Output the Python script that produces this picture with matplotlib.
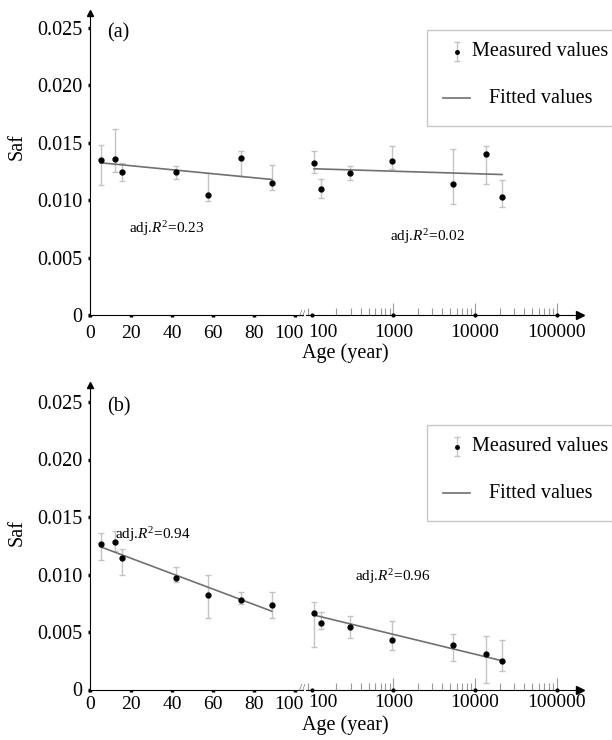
import matplotlib
matplotlib.use('Agg')
import matplotlib.pyplot as plt
import matplotlib.transforms as mtransforms
from matplotlib.lines import Line2D
from matplotlib.patches import Rectangle
from matplotlib.ticker import FixedLocator, FuncFormatter, LogLocator, NullFormatter

plt.rcParams['font.family'] = ['Liberation Serif', 'DejaVu Serif']
plt.rcParams['mathtext.fontset'] = 'custom'
plt.rcParams['mathtext.rm'] = 'Liberation Serif'
plt.rcParams['mathtext.it'] = 'Liberation Serif:italic'

# ages (years) - young part on linear scale, old part on log scale
age_young = [5.4, 12.3, 15.6, 41.8, 57.7, 73.6, 88.6]
age_old = [107, 130, 292, 975, 5370, 13700, 21400]

# panel (a)
saf_a_young = [0.01355, 0.01364, 0.01243, 0.01249, 0.01049, 0.01367, 0.0115]
saf_a_young_hi = [0.01485, 0.01625, 0.01327, 0.01303, 0.01237, 0.01433, 0.0131]
saf_a_young_lo = [0.01136, 0.01251, 0.01165, 0.01185, 0.00997, 0.01211, 0.01087]
saf_a_old = [0.01323, 0.01095, 0.01237, 0.01344, 0.01139, 0.01401, 0.01032]
saf_a_old_hi = [0.01427, 0.01188, 0.01295, 0.01477, 0.01451, 0.01477, 0.01179]
saf_a_old_lo = [0.01237, 0.01023, 0.01176, 0.01272, 0.00971, 0.01139, 0.00945]
fit_a_young = [0.01327, 0.01182]
fit_a_old = [0.01275, 0.01225]
r2_a = ['0.23', '0.02']

# panel (b)
saf_b_young = [0.01263, 0.0128, 0.01144, 0.0097, 0.00818, 0.00777, 0.00736]
saf_b_young_hi = [0.01358, 0.01376, 0.01225, 0.01066, 0.00994, 0.00844, 0.00844]
saf_b_young_lo = [0.01127, 0.01202, 0.00994, 0.00936, 0.00618, 0.00742, 0.00618]
saf_b_old = [0.00664, 0.0058, 0.00542, 0.00432, 0.00384, 0.00311, 0.0025]
saf_b_old_hi = [0.00757, 0.00673, 0.00635, 0.00597, 0.00479, 0.00467, 0.0043]
saf_b_old_lo = [0.00372, 0.00525, 0.0045, 0.0034, 0.00245, 0.00054, 0.0016]
fit_b_young = [0.0124, 0.00681]
fit_b_old = [0.00647, 0.0025]
r2_b = ['0.94', '0.96']

yticks = [0, 0.005, 0.010, 0.015, 0.020, 0.025]
xticks_young = [0, 20, 40, 60, 80, 100]
xticks_old = [100, 1000, 10000, 100000]

W, H = 612, 740
def fx(px):
    return px / W
def fy(py):
    return 1 - py / H

fig = plt.figure(figsize=(W / 100, H / 100), dpi=100)

ERR = '#c4c4c4'
FIT = '#707070'
FS = 14.5
TFS = 14

panels = [
    dict(y0=315.4, ytop=13, letter='(a)', letter_y=33, xpad=6,
         young=(saf_a_young, saf_a_young_lo, saf_a_young_hi, fit_a_young),
         old=(saf_a_old, saf_a_old_lo, saf_a_old_hi, fit_a_old), r2=r2_a,
         r2_pos=[(129, 229), (390, 237)], saf_y=147, age_y=353, leg_top=30),
    dict(y0=689.5, ytop=385, letter='(b)', letter_y=407, xpad=3.5,
         young=(saf_b_young, saf_b_young_lo, saf_b_young_hi, fit_b_young),
         old=(saf_b_old, saf_b_old_lo, saf_b_old_hi, fit_b_old), r2=r2_b,
         r2_pos=[(115, 535), (355, 577)], saf_y=533, age_y=725, leg_top=425),
]

for p in panels:
    ymax = (p['y0'] - p['ytop']) * 0.005 / 57.5
    bottom = fy(p['y0'])
    height = (p['y0'] - p['ytop']) / H
    ax1 = fig.add_axes([fx(89.7), bottom, fx(303) - fx(89.7), height])
    ax2 = fig.add_axes([fx(306), bottom, fx(580) - fx(306), height])

    # young samples, linear axis
    y, lo, hi, fit = p['young']
    ax1.errorbar(age_young, y, yerr=[[a - b for a, b in zip(y, lo)], [b - a for a, b in zip(y, hi)]],
                 fmt='o', color='black', ms=3.5, ecolor=ERR, elinewidth=1, capsize=2.5, capthick=1)
    ax1.plot([age_young[0], age_young[-1]], fit, color=FIT, lw=1.2)
    ax1.set_xlim(0, 103.8)
    ax1.set_ylim(0, ymax)
    ax1.set_xticks(xticks_young)
    ax1.set_yticks(yticks)
    ax1.yaxis.set_major_formatter(FuncFormatter(lambda v, pos: '0' if v == 0 else f'{v:.3f}'))
    ax1.tick_params(axis='both', direction='out', length=1.2, width=2.5, labelsize=TFS, color='black')
    ax1.tick_params(axis='x', pad=p['xpad'])
    ax1.tick_params(axis='y', pad=4, labelsize=FS)
    for s in ['top', 'right']:
        ax1.spines[s].set_visible(False)
    ax1.plot(0, 1, '^k', ms=5, transform=ax1.transAxes, clip_on=False)
    # shift last "100" label left a bit
    lbl = ax1.get_xticklabels()[-1]
    lbl.set_transform(lbl.get_transform() + mtransforms.ScaledTranslation(-6 / 100, 0, fig.dpi_scale_trans))

    # old samples, log axis
    y, lo, hi, fit = p['old']
    ax2.errorbar(age_old, y, yerr=[[a - b for a, b in zip(y, lo)], [b - a for a, b in zip(y, hi)]],
                 fmt='o', color='black', ms=3.5, ecolor=ERR, elinewidth=1, capsize=2.5, capthick=1)
    ax2.plot([age_old[0], age_old[-1]], fit, color=FIT, lw=1.2)
    ax2.set_xscale('log')
    ax2.set_xlim(10 ** 1.9315, 10 ** 5.285)
    ax2.set_ylim(0, ymax)
    ax2.xaxis.set_major_locator(FixedLocator(xticks_old))
    ax2.xaxis.set_major_formatter(FuncFormatter(lambda v, pos: f'{v:.0f}'))
    ax2.xaxis.set_minor_locator(LogLocator(base=10, subs=range(2, 10)))
    ax2.xaxis.set_minor_formatter(NullFormatter())
    ax2.tick_params(axis='x', which='major', direction='in', length=8.5, width=0.8, color='#9a9a9a',
                    labelsize=TFS, pad=p['xpad'])
    ax2.tick_params(axis='x', which='minor', direction='in', length=4.8, width=0.8, color='#9a9a9a')
    ax2.xaxis.get_major_ticks()[0].tick1line.set_visible(False)
    ax2.set_yticks([])
    for s in ['top', 'right', 'left']:
        ax2.spines[s].set_visible(False)
    ax2.plot(xticks_old, [0] * len(xticks_old), 'k.', ms=4, clip_on=False)
    ax2.plot(1, 0, '>k', ms=6, transform=ax2.transAxes, clip_on=False)
    lbl = ax2.get_xticklabels()[0]
    lbl.set_transform(lbl.get_transform() + mtransforms.ScaledTranslation(11 / 100, 0, fig.dpi_scale_trans))
    for a in (ax1, ax2):
        a.patch.set_visible(False)

    # axis break mark
    fig.text(fx(302.5), fy(p['y0'] - 1), '//', fontsize=8, color='#555555', ha='center', va='center')

    fig.text(fx(107), fy(p['letter_y']), p['letter'], fontsize=FS, ha='left', va='center')
    fig.text(fx(17), fy(p['saf_y']), 'Saf', fontsize=FS, rotation=90, ha='center', va='center')
    fig.text(fx(345), fy(p['age_y']), 'Age (year)', fontsize=FS, ha='center', va='center')
    for (px, py), r2 in zip(p['r2_pos'], p['r2']):
        fig.text(fx(px), fy(py), 'adj.$R^2$=' + r2, fontsize=11, ha='left', va='center')

    # legend box drawn by hand
    t = p['leg_top']
    fig.add_artist(Rectangle((fx(427), fy(t + 96)), fx(200), 96 / H, transform=fig.transFigure,
                             fill=False, ec='#c8c8c8', lw=1))
    fig.add_artist(Line2D([fx(456.7)] * 2, [fy(t + 12), fy(t + 31)], transform=fig.transFigure,
                          color=ERR, lw=1, marker='_', ms=5))
    fig.add_artist(Line2D([fx(456.7)], [fy(t + 21.7)], transform=fig.transFigure,
                          color='black', marker='o', ms=2.5))
    fig.add_artist(Line2D([fx(443), fx(470)], [fy(t + 68.3)] * 2, transform=fig.transFigure,
                          color=FIT, lw=1.2))
    fig.text(fx(471.7), fy(t + 21.7), 'Measured values', fontsize=FS, ha='left', va='center')
    fig.text(fx(489.3), fy(t + 68.3), 'Fitted values', fontsize=FS, ha='left', va='center')

fig.savefig('out.png', dpi=100)
